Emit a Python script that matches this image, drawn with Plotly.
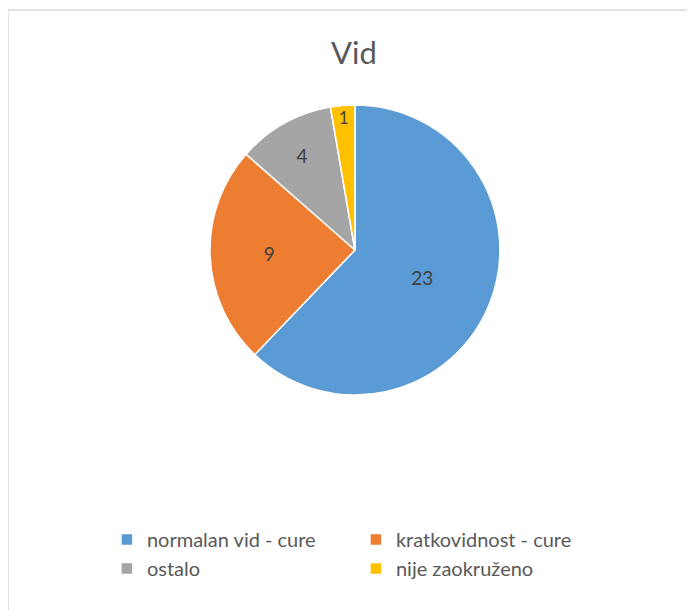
import plotly.graph_objects as go

labels = ["normalan vid - cure", "kratkovidnost - cure", "ostalo", "nije zaokruženo"]
values = [23, 9, 4, 1]
colors = ["#5B9BD5", "#ED7D31", "#A5A5A5", "#FFC000"]

fig = go.Figure(go.Pie(
    labels=labels, values=values, sort=False, direction="clockwise", rotation=0,
    marker=dict(colors=colors, line=dict(color="white", width=1.5)),
    textinfo="value", textposition="inside", insidetextorientation="horizontal",
    textfont=dict(size=19, color="#404040", family="Lato"),
    domain=dict(x=[0.294, 0.716], y=[0.358, 0.842]),
    hoverinfo="label+value",
))

fig.update_layout(
    width=687, height=602,
    margin=dict(l=0, t=2, r=0, b=0),
    paper_bgcolor="white", plot_bgcolor="white",
    font=dict(family="Lato", color="#595959"),
    title=dict(text="Vid", x=0.5036, xanchor="center", y=0.925, yanchor="middle",
               font=dict(size=31, color="#595959", family="Lato")),
    legend=dict(orientation="h", x=0.144, xanchor="left", y=0.15, yanchor="top",
                entrywidth=204, font=dict(size=20, color="#595959", family="Lato")),
    shapes=[dict(type="rect", xref="paper", yref="paper", x0=0, x1=1.05, y0=-0.05, y1=1,
                 line=dict(color="#D9D9D9", width=1.5), layer="below")],
)

fig.write_html("out.html")
